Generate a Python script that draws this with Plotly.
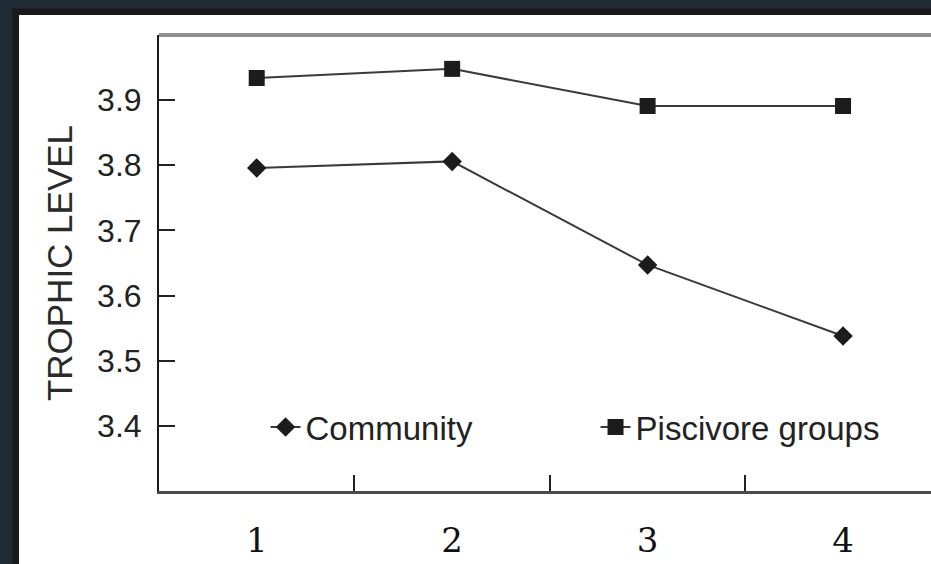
import plotly.graph_objects as go

# Sampling periods along the x axis
periods = [1, 2, 3, 4]
period_labels = ["1", "2", "3", "4"]

# Mean trophic level per period
community = [3.796, 3.806, 3.647, 3.538]
piscivore_groups = [3.934, 3.948, 3.891, 3.891]

# Axis settings
y_ticks = [3.4, 3.5, 3.6, 3.7, 3.8, 3.9]
y_range = [3.3, 4.0]
x_range = [0.5, 4.45]
x_minor_ticks = [1.5, 2.5, 3.5]

INK = "#222222"
LINE = "#3a3a3a"
SANS = "Liberation Sans, Arial, sans-serif"
SERIF = "DejaVu Serif, serif"

fig = go.Figure()

fig.add_trace(go.Scatter(
    x=periods, y=community, name="Community",
    mode="lines+markers",
    line=dict(color=LINE, width=2),
    marker=dict(symbol="diamond", size=15, color="#1c1c1c"),
))
fig.add_trace(go.Scatter(
    x=periods, y=piscivore_groups, name="Piscivore groups",
    mode="lines+markers",
    line=dict(color=LINE, width=2),
    marker=dict(symbol="square", size=16, color="#1c1c1c"),
))

# dark frame and white card behind the plot
fig.add_shape(type="rect", xref="paper", yref="paper",
              x0=-0.19, x1=1.2, y0=-0.3, y1=1.058,
              fillcolor="#1a1a1a", line=dict(width=0), layer="below")
fig.add_shape(type="rect", xref="paper", yref="paper",
              x0=-0.1813, x1=1.2, y0=-0.3, y1=1.044,
              fillcolor="white", line=dict(width=0), layer="below")
# grey rule along the top of the plot area
fig.add_shape(type="line", xref="paper", yref="paper",
              x0=0, x1=1.05, y0=1, y1=1,
              line=dict(color="#8f8f8f", width=4))

fig.update_layout(
    width=931, height=564, autosize=False,
    margin=dict(l=159, r=0, t=35, b=73, pad=0),
    paper_bgcolor="#1f2c36",
    plot_bgcolor="white",
    showlegend=True,
    legend=dict(
        orientation="h",
        x=0.138, xanchor="left",
        y=0.14, yanchor="middle",
        bgcolor="rgba(0,0,0,0)",
        font=dict(family=SANS, size=33, color=INK),
        entrywidth=285, entrywidthmode="pixels",
        itemsizing="trace",
    ),
    xaxis=dict(
        range=x_range, automargin=False,
        tickvals=periods, ticktext=period_labels,
        ticks="", showgrid=False, zeroline=False,
        showline=True, linecolor="#4a4a4a", linewidth=3,
        tickfont=dict(family=SERIF, size=34, color="#111111"),
        ticklabelstandoff=17,
        minor=dict(tickvals=x_minor_ticks, ticks="inside",
                   ticklen=16, tickwidth=2, tickcolor=INK,
                   showgrid=False),
    ),
    yaxis=dict(
        range=y_range, automargin=False,
        tickvals=y_ticks, ticktext=[f"{v:.1f}" for v in y_ticks],
        ticks="inside", ticklen=16, tickwidth=2, tickcolor=INK,
        showgrid=False, zeroline=False,
        showline=True, linecolor="#1a1a1a", linewidth=2,
        tickfont=dict(family=SANS, size=32, color=INK),
        ticklabelstandoff=9,
        title=dict(text="TROPHIC LEVEL",
                   font=dict(family=SANS, size=35, color="#2a2a2a"),
                   standoff=14),
    ),
)

fig.write_html("out.html", config={"displayModeBar": False})
